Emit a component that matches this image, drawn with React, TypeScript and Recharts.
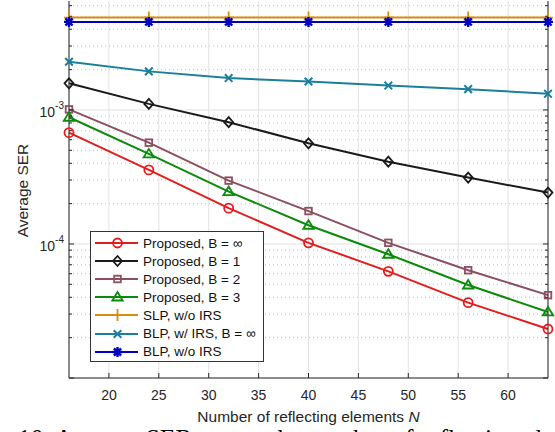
import { CartesianGrid, Line, LineChart, ReferenceLine, XAxis, YAxis } from 'recharts';

const nValues = [16, 24, 32, 40, 48, 56, 64];
const serPropInf = [6.77e-4, 3.57e-4, 1.85e-4, 1.02e-4, 6.25e-5, 3.65e-5, 2.32e-5];
const serPropB1 = [1.58e-3, 1.11e-3, 8.1e-4, 5.64e-4, 4.11e-4, 3.13e-4, 2.42e-4];
const serPropB2 = [1.01e-3, 5.7e-4, 2.97e-4, 1.76e-4, 1.02e-4, 6.37e-5, 4.15e-5];
const serPropB3 = [8.82e-4, 4.7e-4, 2.46e-4, 1.38e-4, 8.38e-5, 4.94e-5, 3.11e-5];
const serSlpNoIrs = [4.89e-3, 4.89e-3, 4.89e-3, 4.89e-3, 4.89e-3, 4.89e-3, 4.89e-3];
const serBlpIrs = [2.29e-3, 1.94e-3, 1.73e-3, 1.63e-3, 1.52e-3, 1.43e-3, 1.32e-3];
const serBlpNoIrs = [4.54e-3, 4.54e-3, 4.54e-3, 4.54e-3, 4.54e-3, 4.54e-3, 4.54e-3];

const xTicks = [20, 25, 30, 35, 40, 45, 50, 55, 60];
const yMajor = [1e-5, 1e-4, 1e-3];
const yMinor = [
  2e-5, 3e-5, 4e-5, 5e-5, 6e-5, 7e-5, 8e-5, 9e-5,
  2e-4, 3e-4, 4e-4, 5e-4, 6e-4, 7e-4, 8e-4, 9e-4,
  2e-3, 3e-3, 4e-3, 5e-3, 6e-3,
];
const yTicks = [...yMajor, ...yMinor].sort((a, b) => a - b);

const series = [
  { key: 'inf', name: 'Proposed, B = ∞', color: '#e31d1d', marker: 'circle', values: serPropInf },
  { key: 'b1', name: 'Proposed, B = 1', color: '#1a1a1a', marker: 'diamond', values: serPropB1 },
  { key: 'b2', name: 'Proposed, B = 2', color: '#8c4f5f', marker: 'square', values: serPropB2 },
  { key: 'b3', name: 'Proposed, B = 3', color: '#0b8a0b', marker: 'triangle', values: serPropB3 },
  { key: 'slp', name: 'SLP, w/o IRS', color: '#d98c10', marker: 'plus', values: serSlpNoIrs },
  { key: 'blpIrs', name: 'BLP, w/ IRS, B = ∞', color: '#1b7f9b', marker: 'x', values: serBlpIrs },
  { key: 'blp', name: 'BLP, w/o IRS', color: '#0000c0', marker: 'star', values: serBlpNoIrs },
];

const data = nValues.map((n, i) => {
  const row: Record<string, number> = { n };
  series.forEach((s) => (row[s.key] = s.values[i]));
  return row;
});

const FONT = '"Liberation Sans", Arial, sans-serif';
const AXIS = '#262626';

function Marker({ kind, cx, cy, color }: { kind: string; cx: number; cy: number; color: string }) {
  const common = { fill: 'none', stroke: color, strokeWidth: 1.8 };
  switch (kind) {
    case 'circle':
      return <circle cx={cx} cy={cy} r={4.5} {...common} />;
    case 'diamond':
      return <polygon points={`${cx},${cy - 5} ${cx + 4.5},${cy} ${cx},${cy + 5} ${cx - 4.5},${cy}`} {...common} />;
    case 'square':
      return <rect x={cx - 3.3} y={cy - 3.3} width={6.6} height={6.6} {...common} />;
    case 'triangle':
      return <polygon points={`${cx},${cy - 5} ${cx + 5.2},${cy + 3.5} ${cx - 5.2},${cy + 3.5}`} {...common} />;
    case 'plus':
      return <path d={`M${cx - 5},${cy}H${cx + 5}M${cx},${cy - 6}V${cy + 6}`} {...common} />;
    case 'x':
      return <path d={`M${cx - 3.8},${cy - 3.8}L${cx + 3.8},${cy + 3.8}M${cx - 3.8},${cy + 3.8}L${cx + 3.8},${cy - 3.8}`} {...common} strokeWidth={2} />;
    default:
      return (
        <path
          d={`M${cx - 5},${cy}H${cx + 5}M${cx},${cy - 5}V${cy + 5}M${cx - 3.6},${cy - 3.6}L${cx + 3.6},${cy + 3.6}M${cx - 3.6},${cy + 3.6}L${cx + 3.6},${cy - 3.6}`}
          {...common}
          strokeWidth={2.4}
        />
      );
  }
}

const isMajor = (v: number) => yMajor.some((m) => Math.abs(m - v) < m * 1e-6);

function BottomTick({ x, y, payload }: any) {
  return (
    <g>
      <line x1={x} x2={x} y1={y} y2={y - 5} stroke={AXIS} />
      <text x={x} y={y + 22} textAnchor="middle" fontSize={14} fill="#262626" fontFamily={FONT}>
        {payload.value}
      </text>
    </g>
  );
}

function TopTick({ x, y }: any) {
  return <line x1={x} x2={x} y1={y} y2={y + 5} stroke={AXIS} />;
}

function LeftTick({ x, y, payload }: any) {
  const major = isMajor(payload.value);
  const exp = Math.round(Math.log10(payload.value));
  return (
    <g>
      <line x1={x} x2={x + (major ? 5 : 3)} y1={y} y2={y} stroke={AXIS} />
      {major && exp > -5 && (
        <text x={x - 5} y={y + 7} textAnchor="end" fontSize={14} fill="#262626" fontFamily={FONT}>
          <tspan>10</tspan>
          <tspan dy={-8} fontSize={10}>{exp}</tspan>
        </text>
      )}
    </g>
  );
}

function RightTick({ x, y, payload }: any) {
  const major = isMajor(payload.value);
  return <line x1={x} x2={x - (major ? 5 : 3)} y1={y} y2={y} stroke={AXIS} />;
}

export default function App() {
  return (
    <div
      style={{
        position: 'absolute',
        left: 0,
        top: 0,
        width: 555,
        height: 432,
        overflow: 'hidden',
        background: '#fff',
        fontFamily: FONT,
      }}
    >
      <LineChart width={555} height={432} data={data} margin={{ top: 1, right: 0, bottom: 0, left: 0 }}>
        <CartesianGrid xAxisId="b" yAxisId="l" horizontal={false} stroke="#e2e2e2" />
        {yMinor.map((v) => (
          <ReferenceLine key={`m${v}`} xAxisId="b" yAxisId="l" y={v} stroke="#c4c4c4" strokeDasharray="1 3" />
        ))}
        {yMajor.map((v) => (
          <ReferenceLine key={`M${v}`} xAxisId="b" yAxisId="l" y={v} stroke="#e2e2e2" />
        ))}
        <XAxis
          xAxisId="b"
          dataKey="n"
          type="number"
          domain={[16, 64]}
          ticks={xTicks}
          interval={0}
          height={54}
          tickSize={0}
          tickMargin={0}
          tickLine={false}
          axisLine={{ stroke: AXIS }}
          tick={<BottomTick />}
          label={{
            content: ({ viewBox }: any) => (
              <text
                x={viewBox.x + viewBox.width / 2}
                y={viewBox.y + 43.5}
                textAnchor="middle"
                fontSize={15.5}
                fill="#262626"
                fontFamily={FONT}
              >
                Number of reflecting elements <tspan fontStyle="italic">N</tspan>
              </text>
            ),
          }}
        />
        <XAxis
          xAxisId="t"
          orientation="top"
          dataKey="n"
          type="number"
          domain={[16, 64]}
          ticks={xTicks}
          interval={0}
          height={0}
          tickSize={0}
          tickMargin={0}
          tickLine={false}
          axisLine={{ stroke: AXIS }}
          tick={<TopTick />}
        />
        <YAxis
          yAxisId="l"
          type="number"
          scale="log"
          domain={[1e-5, 6.5e-3]}
          allowDataOverflow
          ticks={yTicks}
          interval={0}
          width={69}
          tickSize={0}
          tickMargin={0}
          tickLine={false}
          axisLine={{ stroke: AXIS }}
          tick={<LeftTick />}
          label={{
            content: ({ viewBox }: any) => {
              const cx = viewBox.x + 22;
              const cy = viewBox.y + viewBox.height / 2 + 1;
              return (
                <text
                  x={cx}
                  y={cy}
                  transform={`rotate(-90 ${cx} ${cy})`}
                  textAnchor="middle"
                  dominantBaseline="central"
                  fontSize={15.5}
                  fill="#262626"
                  fontFamily={FONT}
                >
                  Average SER
                </text>
              );
            },
          }}
        />
        <YAxis
          yAxisId="r"
          orientation="right"
          type="number"
          scale="log"
          domain={[1e-5, 6.5e-3]}
          allowDataOverflow
          ticks={yTicks}
          interval={0}
          width={7}
          tickSize={0}
          tickMargin={0}
          tickLine={false}
          axisLine={{ stroke: AXIS }}
          tick={<RightTick />}
        />
        {series.map((s) => (
          <Line
            key={s.key}
            xAxisId="b"
            yAxisId="l"
            dataKey={s.key}
            name={s.name}
            stroke={s.color}
            strokeWidth={2}
            isAnimationActive={false}
            dot={(p: any) => <Marker key={`${s.key}-${p.index}`} kind={s.marker} cx={p.cx} cy={p.cy} color={s.color} />}
            activeDot={false}
          />
        ))}
      </LineChart>

      <div
        style={{
          position: 'absolute',
          left: 90,
          top: 231,
          width: 174,
          height: 131,
          boxSizing: 'border-box',
          border: '1px solid #333',
          background: '#fff',
          paddingTop: 2,
        }}
      >
        {series.map((s) => (
          <div key={s.key} style={{ display: 'flex', alignItems: 'center', height: 18.1 }}>
            <svg width={52} height={18} style={{ display: 'block', flex: 'none' }}>
              <line x1={4} x2={47} y1={9} y2={9} stroke={s.color} strokeWidth={2} />
              <Marker kind={s.marker} cx={26.5} cy={9} color={s.color} />
            </svg>
            <span style={{ fontSize: 13.5, color: '#111', whiteSpace: 'nowrap' }}>{s.name}</span>
          </div>
        ))}
      </div>

      <div
        style={{
          position: 'absolute',
          left: 18,
          top: 426,
          fontFamily: '"Liberation Serif", "Times New Roman", serif',
          fontSize: 25.5,
          lineHeight: '25px',
          whiteSpace: 'nowrap',
          color: '#000',
        }}
      >
        10. Average SER versus the number of reflecting elements
      </div>
    </div>
  );
}
